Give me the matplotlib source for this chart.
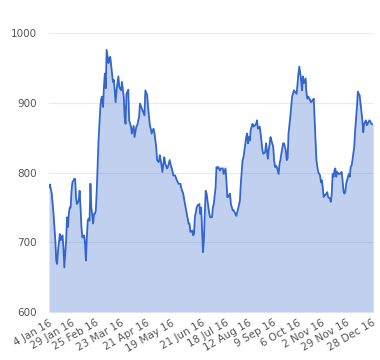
import numpy as np
import pandas as pd
import matplotlib
matplotlib.use("Agg")
import matplotlib.pyplot as plt

# days after 4 Jan 2016, and the value
days = [0, 1, 3, 5, 7, 8, 9, 10, 12, 13, 14, 15, 16, 17, 19, 20, 21, 22, 23, 24,
        25, 26, 28, 29, 30, 31, 33, 34, 35, 36, 37, 39, 40, 41, 42, 43, 44, 45, 46, 47,
        49, 50, 51, 52, 53, 54, 55, 56, 57, 58, 59, 60, 61, 62, 63, 64, 66, 67,
        68, 70, 71, 72, 74, 75, 77, 78, 80, 81, 83, 84, 85, 86, 88, 89, 91, 92, 94, 95,
        97, 98, 100, 101, 103, 104, 106, 107, 109, 110, 112, 113, 114, 116, 117, 119,
        120, 122, 123, 124, 126, 127, 128, 129, 131, 132, 134, 135, 137, 138,
        140, 142, 144, 146, 147, 149, 151, 153, 155, 156, 157, 159, 160, 161, 162, 164,
        165, 167, 168, 169, 170, 171, 172, 173, 174, 175, 176, 178, 179, 181, 182, 183,
        185, 186, 187, 188, 190, 191, 193, 194, 196, 197, 198, 199, 201, 202, 204, 205,
        207, 208, 210,
        212, 213, 215, 216, 217, 219, 220, 221, 222, 223, 224, 226, 227, 229, 230, 231,
        232, 234, 235, 237, 238, 240, 241, 242, 243, 244, 246, 247, 249, 250, 251, 252,
        253, 255, 256, 257, 258, 260, 261, 263, 264, 265, 266, 268, 269, 270, 272, 273,
        275, 276, 277, 278, 279, 280, 281, 282, 283,
        285, 286, 287, 288, 290, 291, 293, 294, 295, 296, 297, 298, 299, 301, 302, 303,
        304, 305, 306, 307, 308, 309, 310, 312, 313, 314, 315, 316, 317, 318, 319, 320,
        322, 323, 325, 326, 327, 328, 329, 330, 332, 333, 334, 335, 336, 337, 338, 339,
        340, 342, 343, 344, 345, 346, 347, 348, 349, 350, 352, 353, 354, 355, 356, 357,
        358, 360]
values = [779, 783, 770, 741, 703, 674, 669, 688, 712, 703, 707, 710, 693, 664, 703, 736, 722, 741, 750, 750,
          774, 786, 791, 791, 765, 755, 760, 774, 750, 722, 707, 710, 698, 674, 707, 731, 734, 731, 784, 750,
          727, 741, 741, 746, 774, 808, 846, 870, 894, 906, 909, 894, 923, 942, 921, 976, 957, 964,
          966, 942, 930, 933, 901, 918, 938, 923, 918, 930, 909, 880, 870, 913, 919, 875, 866, 856, 867, 851,
          866, 868, 880, 899, 892, 889, 882, 918, 911, 894, 868, 863, 856, 863, 858, 837,
          818, 815, 825, 818, 801, 813, 822, 813, 806, 808, 818, 812, 803, 796,
          796, 789, 784, 784, 777, 770, 755, 741, 727, 727, 715, 717, 710, 712, 736, 750,
          753, 755, 741, 750, 717, 686, 703, 741, 774, 770, 760, 741, 736, 736, 750, 755,
          779, 808, 806, 808, 803, 806, 806, 798, 806, 789, 765, 765, 770, 755, 746, 746,
          741, 738, 748,
          760, 784, 818, 822, 832, 851, 856, 842, 851, 846, 861, 870, 866, 868, 870, 875,
          863, 866, 856, 832, 827, 829, 842, 832, 820, 832, 851, 846, 837, 818, 808, 810,
          808, 798, 813, 818, 827, 842, 842, 832, 818, 820, 856, 880, 894, 909, 918, 916,
          913, 928, 942, 952, 942, 933, 918, 938, 928,
          935, 913, 906, 909, 904, 901, 904, 906, 875, 846, 818, 808, 801, 796, 786, 789,
          779, 765, 768, 768, 770, 772, 765, 763, 758, 770, 798, 794, 803, 806, 794, 801,
          798, 798, 801, 789, 774, 770, 772, 784, 794, 798, 794, 808, 810, 818, 827, 837,
          861, 894, 916, 913, 911, 899, 887, 875, 858, 870, 875, 868, 870, 873, 875, 873,
          870, 869]

tick_dates = ["2016-01-04", "2016-01-29", "2016-02-25", "2016-03-23", "2016-04-21",
              "2016-05-19", "2016-06-21", "2016-07-18", "2016-08-12", "2016-09-09",
              "2016-10-06", "2016-11-02", "2016-11-29", "2016-12-28"]
tick_labels = ["4 Jan 16", "29 Jan 16", "25 Feb 16", "23 Mar 16", "21 Apr 16",
               "19 May 16", "21 Jun 16", "18 Jul 16", "12 Aug 16", "9 Sep 16",
               "6 Oct 16", "2 Nov 16", "29 Nov 16", "28 Dec 16"]
y_ticks = [600, 700, 800, 900, 1000]

dates = pd.Timestamp("2016-01-04") + pd.to_timedelta(days, unit="D")

fig = plt.figure(figsize=(3.8, 3.6), dpi=100)
ax = fig.add_axes([0.129, 0.133, 0.853, 0.775])

ax.fill_between(dates, values, 600, color="#3366cc", alpha=0.3, lw=0, zorder=2)
ax.plot(dates, values, color="#3366cc", lw=1.3, zorder=3)

ax.set_ylim(600, 1000)
ax.set_xlim(dates[0], dates[-1])
ax.set_yticks(y_ticks)
ax.set_yticklabels([str(v) for v in y_ticks])
ax.set_xticks(pd.to_datetime(tick_dates))
ax.set_xticklabels(tick_labels, rotation=30, ha="right", va="top",
                   rotation_mode="anchor")

ax.grid(axis="y", color="#ebebeb", lw=0.8, zorder=0)
ax.set_axisbelow(True)
for s in ax.spines.values():
    s.set_visible(False)
ax.tick_params(axis="both", length=0, labelsize=7.5, labelcolor="#555555")
ax.tick_params(axis="y", pad=9)
ax.tick_params(axis="x", pad=4)

fig.savefig("out.png", dpi=100)
